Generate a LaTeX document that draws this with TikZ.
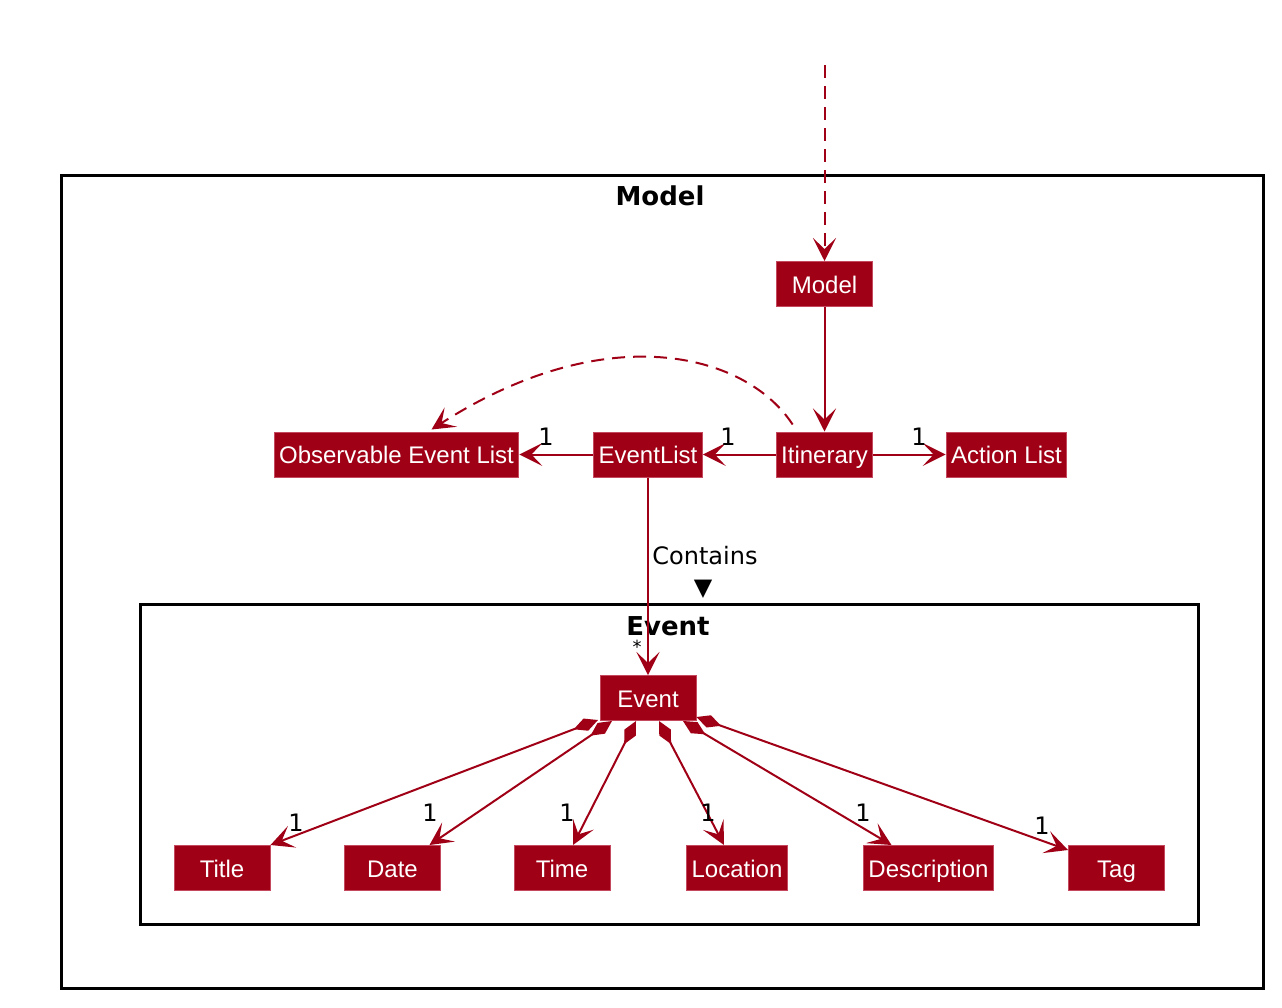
\documentclass[tikz,border=0pt]{standalone}
\usepackage{fontspec}
\setmainfont{Liberation Sans}
\newfontfamily\labfont{DejaVu Sans}
\usetikzlibrary{arrows.meta,calc}
\definecolor{umlred}{HTML}{A00016}
\definecolor{umledge}{HTML}{C4485E}
\tikzset{
  cls/.style={fill=umlred, draw=umledge, line width=0.5pt, text=white,
    font=\fontsize{12}{14}\selectfont, inner xsep=2.5pt, inner ysep=0pt,
    text height=10.2pt, text depth=1.2pt,
    minimum width=48pt, minimum height=22.5pt},
  frame/.style={draw=black, line width=1.5pt},
  ftitle/.style={font=\labfont\bfseries\fontsize{13}{15}\selectfont},
  lab/.style={font=\labfont\fontsize{12}{14}\selectfont, inner sep=0pt},
  conn/.style={draw=umlred, line width=1pt, -{Stealth[length=11.5pt,width=11.5pt,inset=5.5pt]}},
  dconn/.style={conn, dash pattern=on 6.5pt off 4pt},
  comp/.style={draw=umlred, line width=1pt,
    {Diamond[length=13pt,width=6.5pt]}-{Stealth[length=11.5pt,width=11.5pt,inset=5.5pt]}}
}
\begin{document}
\begin{tikzpicture}[x=0.5pt,y=-0.5pt]
\useasboundingbox (0,0) rectangle (1282,1008);
% frames
\draw[frame] (61,175) rectangle (1263,988);
\node[ftitle] (fmodel) at (660,196) {Model};
\draw[frame] (140,604) rectangle (1198,924);
\node[ftitle] (fevent) at (668,626) {Event};
% nodes
\coordinate (top) at (824.5,65);
\node[cls] (model) at (824.5,284) {Model};
\node[cls] (itin) at (824.5,454.5) {Itinerary};
\node[cls] (act) at (1006.5,454.5) {Action List};
\node[cls] (el) at (648,454.5) {EventList};
\node[cls] (obs) at (396.5,454.5) {Observable Event List};
\node[cls] (ev) at (648,698) {Event};
\node[cls] (tt) at (222,868) {Title};
\node[cls] (dt) at (392.5,868) {Date};
\node[cls] (tm) at (562,868) {Time};
\node[cls] (loc) at (737,868) {Location};
\node[cls] (desc) at (928.5,868) {Description};
\node[cls] (tg) at (1116.5,868) {Tag};
% connectors
\draw[dconn] (top) -- (model.north);
\draw[conn] (model) -- (itin);
\draw[conn] (itin) -- (el);
\draw[conn] (itin) -- (act);
\draw[conn] (el) -- (obs);
\draw[dconn] ($(itin.north west)+(17,-7)$) .. controls (745,352) and (605,318) .. ($(obs.north)+(35,-2)$);
\draw[conn] (el) -- (ev);
\draw[comp] ($(ev.south)+(-50,-1)$) -- (tt.north east);
\draw[comp] ($(ev.south)+(-36,0)$) -- ($(dt.north)+(37,0)$);
\draw[comp] ($(ev.south)+(-12,0)$) -- ($(tm.north)+(11,0)$);
\draw[comp] ($(ev.south)+(11,0)$) -- ($(loc.north)+(-13,0)$);
\draw[comp] ($(ev.south)+(35,0)$) -- ($(desc.north)+(-37,0)$);
\draw[comp] ($(ev.south east)+(0,-4)$) -- ($(tg.north west)+(0,5)$);
% labels
\node[lab] (l1) at (546,437) {1};
\node[lab] (l2) at (728,437) {1};
\node[lab] (l3) at (919,437) {1};
\node[lab] (lc) at (705,556) {Contains};
\node[lab] (ltri) at (703,589) {▼};
\node[lab,font=\labfont\fontsize{9}{10}\selectfont] (lstar) at (637,647) {*};
\node[lab] (b1) at (296,823) {1};
\node[lab] (b2) at (430,813) {1};
\node[lab] (b3) at (567,813) {1};
\node[lab] (b4) at (708,813) {1};
\node[lab] (b5) at (863,813) {1};
\node[lab] (b6) at (1042,826) {1};
\end{tikzpicture}
\end{document}
